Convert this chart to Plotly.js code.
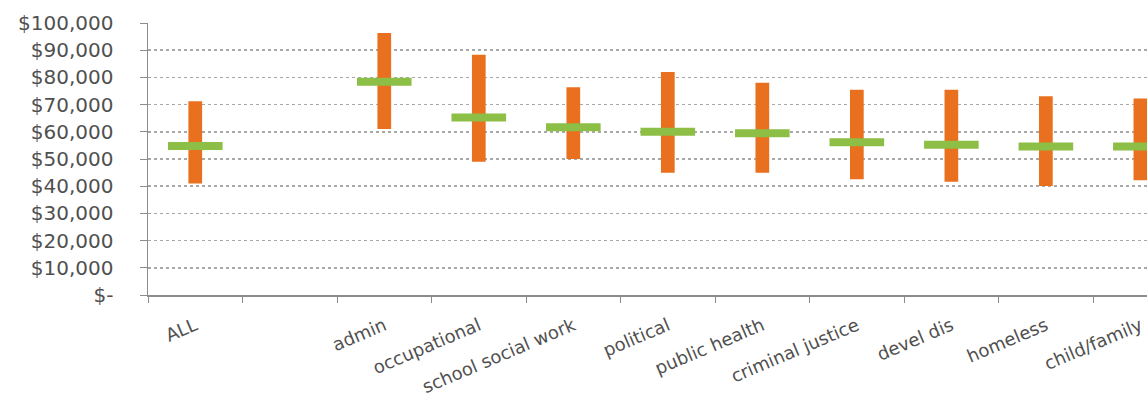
<!DOCTYPE html>
<html>
<head>
<meta charset="utf-8">
<script src="https://cdn.plot.ly/plotly-3.0.1.min.js"></script>
<style>html,body{margin:0;padding:0;background:#fff;}#chart{width:1147px;height:404px;}</style>
</head>
<body>
<div id="chart"></div>
<script>
const categories = ["ALL", " ", "admin", "occupational", "school social work", "political",
  "public health", "criminal justice", "devel dis", "homeless", "child/family"];
const lowValues    = [41000, null, 61000, 49000, 50000, 44900, 44900, 42600, 41600, 40100, 42200];
const highValues   = [71200, null, 96300, 88300, 76400, 82000, 78000, 75500, 75500, 73100, 72200];
const medianValues = [54800, null, 78400, 65300, 61700, 60000, 59500, 56200, 55200, 54600, 54600];
const yTickVals  = [0, 10000, 20000, 30000, 40000, 50000, 60000, 70000, 80000, 90000, 100000];
const yTickText  = ["$-", "$10,000", "$20,000", "$30,000", "$40,000", "$50,000", "$60,000",
  "$70,000", "$80,000", "$90,000", "$100,000"];

const rangeHeights = highValues.map((h, i) => (h === null ? null : h - lowValues[i]));

const traces = [
  {
    type: "bar", x: categories, y: rangeHeights, base: lowValues,
    width: 0.145, marker: {color: "#E8701E"}, hoverinfo: "skip", showlegend: false
  },
  {
    type: "scatter", mode: "markers", x: categories, y: medianValues,
    marker: {symbol: "line-ew-open", size: 39, color: "#8DBE45", line: {color: "#8DBE45", width: 8}},
    showlegend: false
  }
];

const layout = {
  width: 1147, height: 404,
  margin: {l: 148, r: 0, t: 23, b: 109},
  paper_bgcolor: "#ffffff", plot_bgcolor: "#ffffff",
  barmode: "overlay",
  font: {family: "DejaVu Sans", color: "#505050", size: 18},
  xaxis: {
    type: "category", categoryorder: "array", categoryarray: categories,
    range: [-0.5, 10.07],
    tickson: "boundaries", ticks: "outside", ticklen: 6, tickcolor: "#8c8c8c",
    ticklabelstandoff: 12,
    showgrid: false, showline: true, linecolor: "#8c8c8c", linewidth: 1.5,
    tickangle: -23, tickfont: {size: 18, color: "#505050", family: "DejaVu Sans"},
    zeroline: false, fixedrange: true
  },
  yaxis: {
    range: [0, 100000], tickvals: yTickVals, ticktext: yTickText,
    ticks: "outside", ticklen: 7, tickcolor: "#8c8c8c", ticklabelstandoff: 22,
    showline: true, linecolor: "#8c8c8c", linewidth: 1.5,
    showgrid: true, gridcolor: "#a8a8a8", griddash: "dot", gridwidth: 1.5,
    zeroline: false, tickfont: {size: 20, color: "#505050", family: "DejaVu Sans"},
    fixedrange: true
  }
};

Plotly.newPlot("chart", traces, layout, {displayModeBar: false, staticPlot: true});
</script>
</body>
</html>
